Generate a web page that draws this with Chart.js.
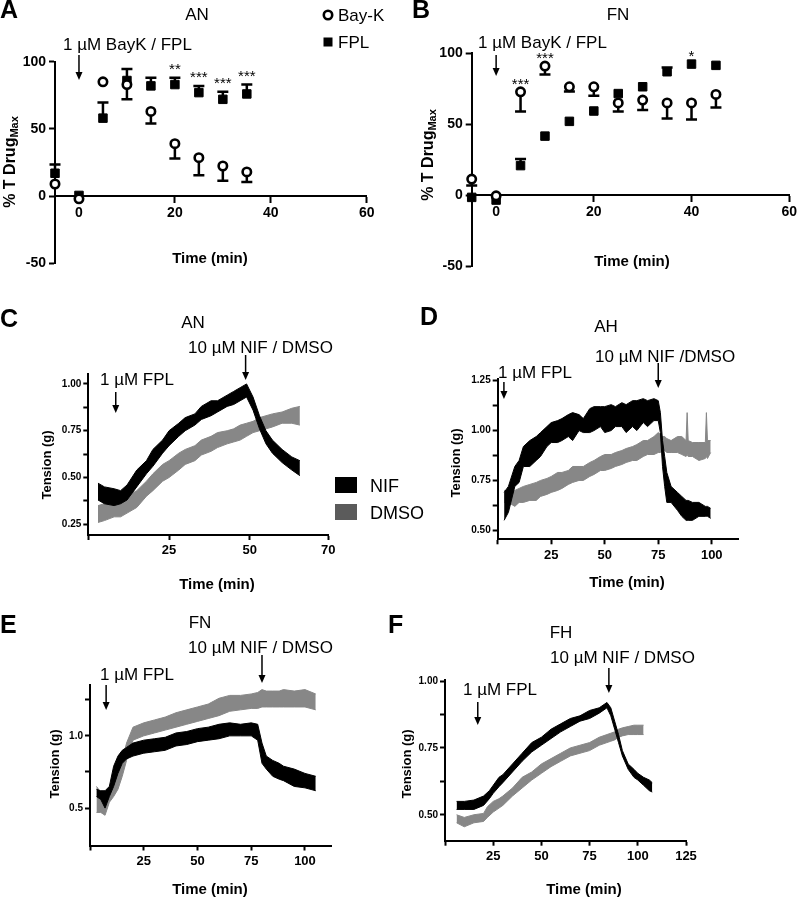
<!DOCTYPE html>
<html>
<head>
<meta charset="utf-8">
<script src="https://cdn.jsdelivr.net/npm/chart.js@4.4.1/dist/chart.umd.min.js"></script>
<style>
  body { margin: 0; background: #fff; width: 800px; height: 899px; overflow: hidden; position: relative; }
  canvas { position: absolute; }
</style>
</head>
<body>
<canvas id="chartA"></canvas>
<canvas id="chartB"></canvas>
<canvas id="chartC"></canvas>
<canvas id="chartD"></canvas>
<canvas id="chartE"></canvas>
<canvas id="chartF"></canvas>
<script>
// ---- panel A (AN) : % of max tension, mean + one-sided SEM ----
const aTime = [-5, 0, 5, 10, 15, 20, 25, 30, 35];
const aBayK = [9, -2, 85, 83, 63, 39, 28.6, 22.4, 18];
const aBayKErr = [0, 0, 0, 11, 9, 11, 13, 11, 7.6];
const aFpl = [17, 0.5, 58, 86, 82, 83, 77, 72, 76];
const aFplErr = [6.5, 0, 11.7, 8.5, 6, 5, 5, 5.6, 7];
const aStars = ["", "", "", "", "", "**", "***", "***", "***"];

// ---- panel B (FN) ----
const bTime = [-5, 0, 5, 10, 15, 20, 25, 30, 35, 40, 45];
const bBayK = [11.3, -0.5, 72.8, 91, 76.4, 76.4, 65, 67, 65, 65, 71];
const bBayKErr = [4.5, 0, 13.8, 6, 3.4, 6.4, 6, 7, 11, 11.6, 9.3];
const bFpl = [-1.6, -3.5, 20.8, 41.6, 52, 59.3, 71.6, 76.4, 87, 92.4, 91.5];
const bFplErr = [0, 0, 4.7, 0, 0, 0, 0, 0, 3, 0, 0];
const bStars = ["", "", "***", "***", "", "", "", "", "", "*", ""];

const pctTicks = [-50, 0, 50, 100];
const pctLabels = ["-50", "0", "50", "100"];
const abTimeTicks = [0, 20, 40, 60];
const abTimeLabels = ["0", "20", "40", "60"];

// ---- panel C (AN) tension traces, band = low/high envelope of the trace ----
const cTime = [3, 5, 8, 10, 12, 15, 18, 20, 23, 25, 28, 30, 33, 35, 38, 40, 43, 45, 47, 49, 51, 53, 55, 57, 60, 63, 65.5];
const cNifLow = [0.38, 0.36, 0.35, 0.36, 0.38, 0.45, 0.52, 0.56, 0.63, 0.67, 0.72, 0.75, 0.78, 0.81, 0.83, 0.85, 0.88, 0.89, 0.91, 0.93, 0.86, 0.76, 0.68, 0.63, 0.58, 0.54, 0.51];
const cNifHigh = [0.47, 0.45, 0.44, 0.43, 0.46, 0.54, 0.59, 0.65, 0.70, 0.75, 0.79, 0.82, 0.84, 0.88, 0.91, 0.91, 0.94, 0.96, 0.98, 1.00, 0.93, 0.83, 0.75, 0.70, 0.65, 0.61, 0.59];
const cDmsoLow = [0.26, 0.27, 0.29, 0.29, 0.31, 0.34, 0.40, 0.43, 0.48, 0.50, 0.54, 0.57, 0.59, 0.62, 0.64, 0.66, 0.68, 0.69, 0.70, 0.72, 0.74, 0.75, 0.76, 0.77, 0.79, 0.79, 0.78];
const cDmsoHigh = [0.35, 0.36, 0.36, 0.38, 0.40, 0.43, 0.48, 0.52, 0.57, 0.59, 0.63, 0.65, 0.67, 0.70, 0.72, 0.74, 0.75, 0.76, 0.78, 0.79, 0.80, 0.82, 0.83, 0.84, 0.85, 0.87, 0.88];
const cXTicks = [0, 25, 50, 74.3];
const cXLabels = ["", "25", "50", "70"];
const cYTicks = [0.25, 0.375, 0.5, 0.625, 0.75, 0.875, 1.0];
const cYLabels = ["0.25", "", "0.50", "", "0.75", "", "1.00"];

// ---- panel D (AH) ----
const dTime = [3, 5, 8, 10, 12, 15, 18, 20, 23, 25, 28, 30, 33, 35, 38, 40, 43, 45, 48, 50, 53, 55, 58, 60, 63, 65, 68, 70, 73, 75, 76, 77, 78, 79, 81, 84, 86, 88, 88.5, 89, 91, 94, 97, 97.5, 98, 99.5];
const dNifLow = [0.55, 0.59, 0.72, 0.74, 0.82, 0.82, 0.85, 0.87, 0.92, 0.94, 0.94, 0.95, 0.97, 0.95, 1.00, 0.99, 0.99, 1.00, 1.02, 0.99, 1.00, 1.02, 1.02, 0.99, 1.02, 1.00, 1.04, 1.02, 1.05, 1.05, 0.99, 0.82, 0.72, 0.64, 0.64, 0.60, 0.57, 0.55, 0.55, 0.55, 0.55, 0.57, 0.57, 0.57, 0.57, 0.56];
const dNifHigh = [0.69, 0.72, 0.82, 0.85, 0.92, 0.95, 0.97, 0.99, 1.02, 1.04, 1.05, 1.06, 1.08, 1.09, 1.08, 1.06, 1.11, 1.12, 1.12, 1.12, 1.13, 1.12, 1.14, 1.13, 1.15, 1.15, 1.16, 1.15, 1.16, 1.15, 1.09, 0.95, 0.87, 0.79, 0.72, 0.69, 0.67, 0.65, 0.65, 0.65, 0.64, 0.64, 0.62, 0.62, 0.62, 0.61];
const dDmsoLow = [0.64, 0.64, 0.62, 0.64, 0.64, 0.65, 0.65, 0.67, 0.68, 0.69, 0.70, 0.71, 0.73, 0.74, 0.75, 0.75, 0.77, 0.78, 0.80, 0.80, 0.81, 0.82, 0.83, 0.84, 0.85, 0.85, 0.87, 0.88, 0.88, 0.89, 0.89, 0.90, 0.90, 0.89, 0.89, 0.89, 0.88, 0.87, 0.88, 0.87, 0.87, 0.85, 0.86, 0.87, 0.86, 0.89];
const dDmsoHigh = [0.70, 0.70, 0.70, 0.71, 0.72, 0.73, 0.74, 0.75, 0.76, 0.77, 0.79, 0.79, 0.80, 0.82, 0.82, 0.82, 0.84, 0.85, 0.87, 0.88, 0.88, 0.89, 0.90, 0.91, 0.92, 0.93, 0.95, 0.95, 0.97, 0.99, 0.98, 0.97, 0.97, 0.96, 0.95, 0.97, 0.97, 0.95, 1.09, 0.95, 0.94, 0.94, 0.94, 1.09, 0.95, 0.95];
const dXTicks = [0, 25, 50, 75, 100];
const dXLabels = ["", "25", "50", "75", "100"];
const dYTicks = [0.5, 0.625, 0.75, 0.875, 1.0, 1.125, 1.25];
const dYLabels = ["0.50", "", "0.75", "", "1.00", "", "1.25"];

// ---- panel E (FN) ----
const eTime = [3, 5, 7, 9, 11, 13, 15, 17, 20, 25, 30, 35, 40, 45, 50, 55, 60, 65, 70, 75, 78, 80, 82, 85, 88, 90, 95, 100, 105];
const eNifLow = [0.58, 0.56, 0.50, 0.58, 0.65, 0.74, 0.81, 0.84, 0.86, 0.88, 0.89, 0.90, 0.93, 0.94, 0.96, 0.97, 0.98, 1.00, 1.00, 1.00, 0.97, 0.81, 0.77, 0.72, 0.70, 0.69, 0.65, 0.64, 0.62];
const eNifHigh = [0.63, 0.62, 0.62, 0.65, 0.79, 0.86, 0.90, 0.92, 0.95, 0.97, 0.98, 0.99, 1.02, 1.03, 1.05, 1.06, 1.08, 1.09, 1.08, 1.09, 1.08, 0.95, 0.86, 0.83, 0.81, 0.79, 0.77, 0.74, 0.72];
const eDmsoLow = [0.47, 0.47, 0.45, 0.54, 0.58, 0.63, 0.72, 0.83, 0.97, 1.00, 1.02, 1.04, 1.06, 1.08, 1.10, 1.12, 1.14, 1.17, 1.18, 1.19, 1.19, 1.20, 1.20, 1.20, 1.20, 1.20, 1.20, 1.20, 1.18];
const eDmsoHigh = [0.65, 0.61, 0.58, 0.65, 0.70, 0.74, 0.83, 0.95, 1.06, 1.09, 1.11, 1.13, 1.16, 1.18, 1.20, 1.22, 1.26, 1.28, 1.28, 1.29, 1.30, 1.32, 1.31, 1.31, 1.31, 1.32, 1.31, 1.32, 1.29];
const eYTicks = [0.5, 0.75, 1.0, 1.25];
const eYLabels = ["0.5", "", "1.0", ""];

// ---- panel F (FH) ----
const fTime = [6, 10, 15, 20, 23, 25, 28, 30, 35, 40, 45, 50, 55, 60, 65, 70, 75, 80, 84, 86, 88, 90, 92, 95, 98, 100, 103, 106, 107.5];
const fNifLow = [0.52, 0.52, 0.52, 0.535, 0.56, 0.58, 0.605, 0.62, 0.66, 0.70, 0.735, 0.76, 0.785, 0.81, 0.83, 0.85, 0.86, 0.88, 0.90, 0.87, 0.82, 0.77, 0.72, 0.67, 0.64, 0.63, 0.61, 0.59, 0.585];
const fNifHigh = [0.55, 0.55, 0.555, 0.57, 0.59, 0.61, 0.64, 0.65, 0.69, 0.73, 0.77, 0.79, 0.82, 0.84, 0.86, 0.87, 0.89, 0.90, 0.92, 0.90, 0.85, 0.80, 0.74, 0.69, 0.67, 0.655, 0.64, 0.63, 0.62];
const fDmsoTime = [6, 10, 15, 20, 22, 25, 28, 30, 35, 40, 45, 50, 55, 60, 65, 70, 75, 80, 84, 86, 88, 90, 92, 95, 98, 100, 103];
const fDmsoLow = [0.47, 0.455, 0.47, 0.475, 0.49, 0.51, 0.525, 0.535, 0.57, 0.60, 0.63, 0.655, 0.68, 0.70, 0.72, 0.73, 0.74, 0.76, 0.77, 0.775, 0.78, 0.79, 0.795, 0.80, 0.80, 0.80, 0.80];
const fDmsoHigh = [0.50, 0.49, 0.50, 0.505, 0.53, 0.55, 0.56, 0.57, 0.60, 0.64, 0.66, 0.69, 0.71, 0.73, 0.75, 0.76, 0.77, 0.79, 0.80, 0.805, 0.81, 0.82, 0.825, 0.83, 0.835, 0.835, 0.835];
const fXTicks = [0, 25, 50, 75, 100, 125];
const fXLabels = ["", "25", "50", "75", "100", "125"];
const fYTicks = [0.5, 0.625, 0.75, 0.875, 1.0];
const fYLabels = ["0.50", "", "0.75", "", "1.00"];

const FONT = "'Liberation Sans', Arial, Helvetica, sans-serif";
const GRAY = "#878787";
const LEGEND_GRAY = "#5b5b5b";

Chart.defaults.font.family = FONT;
Chart.defaults.color = "#000";

function place(id, box) {
  const cv = document.getElementById(id);
  cv.width = box.w;
  cv.height = box.h;
  cv.style.left = box.x + "px";
  cv.style.top = box.y + "px";
  return cv;
}

function tickAxis(vals, labels, size, len, pad, extra) {
  return Object.assign(
    {
      type: "linear",
      afterBuildTicks: (s) => {
        s.ticks = vals.map((v) => ({ value: v }));
      },
      grid: { drawOnChartArea: false, tickLength: len, tickColor: "#000", tickWidth: 2 },
      border: { color: "#000", width: 2 },
      ticks: {
        color: "#000",
        autoSkip: false,
        maxRotation: 0,
        padding: pad,
        font: { family: FONT, size: size, weight: "bold" },
        callback: (v, i) => labels[i],
      },
    },
    extra
  );
}

function band(time, low, high, color) {
  return [
    { data: time.map((t, i) => ({ x: t, y: low[i] })), borderColor: color, borderWidth: 1, pointRadius: 0, fill: false },
    { data: time.map((t, i) => ({ x: t, y: high[i] })), borderColor: color, borderWidth: 1, pointRadius: 0, fill: "-1", backgroundColor: color },
  ];
}

function arrow(ctx, x, y0, y1) {
  ctx.lineWidth = 1.5;
  ctx.beginPath();
  ctx.moveTo(x, y0);
  ctx.lineTo(x, y1 - 6);
  ctx.stroke();
  ctx.beginPath();
  ctx.moveTo(x - 3.5, y1 - 8);
  ctx.lineTo(x + 3.5, y1 - 8);
  ctx.lineTo(x, y1);
  ctx.closePath();
  ctx.fill();
}

// letters, titles, notes, arrows and axis titles; coordinates are page pixels
function decor(box, spec) {
  return {
    id: "decor",
    afterDraw(chart) {
      const ctx = chart.ctx;
      const xs = chart.scales.x;
      ctx.save();
      ctx.translate(-box.x, -box.y);
      ctx.fillStyle = "#000";
      ctx.strokeStyle = "#000";
      ctx.textBaseline = "alphabetic";

      ctx.font = "bold 25px " + FONT;
      ctx.textAlign = "left";
      ctx.fillText(spec.letter[0], spec.letter[1], spec.letter[2]);

      ctx.font = "17px " + FONT;
      ctx.textAlign = "center";
      ctx.fillText(spec.title[0], spec.title[1], spec.title[2]);

      ctx.textAlign = "left";
      spec.notes.forEach((n) => ctx.fillText(n[0], n[1], n[2]));

      spec.arrows.forEach((a) => arrow(ctx, xs.getPixelForValue(a[0]) + box.x, a[1], a[2]));

      ctx.font = "bold 15px " + FONT;
      ctx.textAlign = "center";
      ctx.fillText("Time (min)", spec.xTitle[0], spec.xTitle[1]);

      const yt = spec.yTitle;
      ctx.save();
      ctx.translate(yt.x, yt.y);
      ctx.rotate(-Math.PI / 2);
      ctx.textAlign = "left";
      ctx.font = "bold " + yt.size + "px " + FONT;
      const w1 = ctx.measureText(yt.text).width;
      let w2 = 0;
      if (yt.sub) {
        ctx.font = "bold " + yt.subSize + "px " + FONT;
        w2 = ctx.measureText(yt.sub).width;
      }
      const start = -(w1 + w2) / 2;
      ctx.font = "bold " + yt.size + "px " + FONT;
      ctx.fillText(yt.text, start, 0);
      if (yt.sub) {
        ctx.font = "bold " + yt.subSize + "px " + FONT;
        ctx.fillText(yt.sub, start + w1, 3);
      }
      ctx.restore();

      if (spec.legend) spec.legend(ctx);
      ctx.restore();
    },
  };
}

// one-sided error bars (down for Bay-K, up for FPL) and significance stars
function errorBars(series, stars, starGap) {
  return {
    id: "errorBars",
    beforeDatasetsDraw(chart) {
      const { ctx } = chart;
      const { x, y } = chart.scales;
      ctx.save();
      ctx.strokeStyle = "#000";
      ctx.lineWidth = 2.5;
      series.forEach((s) =>
        s.time.forEach((t, i) => {
          const e = s.err[i];
          if (!e) return;
          const px = x.getPixelForValue(t);
          const py0 = y.getPixelForValue(s.val[i]);
          const py1 = y.getPixelForValue(s.val[i] + s.dir * e);
          ctx.beginPath();
          ctx.moveTo(px, py0);
          ctx.lineTo(px, py1);
          ctx.moveTo(px - 5.5, py1);
          ctx.lineTo(px + 5.5, py1);
          ctx.stroke();
        })
      );
      ctx.restore();
    },
    afterDatasetsDraw(chart) {
      const { ctx } = chart;
      const { x, y } = chart.scales;
      ctx.save();
      ctx.fillStyle = "#000";
      ctx.font = "15px " + FONT;
      ctx.textAlign = "center";
      ctx.textBaseline = "middle";
      stars.forEach((st, i) => {
        if (!st) return;
        let top = Infinity;
        series.forEach((s) => {
          top = Math.min(top, y.getPixelForValue(s.val[i]) - 5.5);
          if (s.dir > 0 && s.err[i]) top = Math.min(top, y.getPixelForValue(s.val[i] + s.err[i]));
        });
        ctx.fillText(st, x.getPixelForValue(series[0].time[i]), top - starGap);
      });
      ctx.restore();
    },
  };
}

function markerLegend(ctx, x, y1, y2) {
  ctx.lineWidth = 2.6;
  ctx.fillStyle = "#fff";
  ctx.beginPath();
  ctx.arc(x, y1, 4.2, 0, Math.PI * 2);
  ctx.fill();
  ctx.stroke();
  ctx.fillStyle = "#000";
  ctx.fillRect(x - 4.5, y2 - 4.5, 9, 9);
  ctx.font = "17px " + FONT;
  ctx.textAlign = "left";
  ctx.fillText("Bay-K", x + 10, y1 + 6);
  ctx.fillText("FPL", x + 10, y2 + 6);
}

function boxLegend(ctx) {
  ctx.fillStyle = "#000";
  ctx.fillRect(335, 477, 22, 16);
  ctx.fillStyle = LEGEND_GRAY;
  ctx.fillRect(335, 504, 22, 16);
  ctx.fillStyle = "#000";
  ctx.font = "18px " + FONT;
  ctx.textAlign = "left";
  ctx.fillText("NIF", 370, 492);
  ctx.fillText("DMSO", 370, 519);
}

function pctChart(id, box, area, d, spec) {
  const cv = place(id, box);
  const YW = 45;
  const a = { l: area.l - box.x, r: area.r - box.x, t: area.t - box.y, b: area.b - box.y };
  new Chart(cv, {
    type: "line",
    data: {
      datasets: [
        {
          label: "Bay-K",
          data: d.time.map((t, i) => ({ x: t, y: d.bayk[i] })),
          showLine: false,
          pointStyle: "circle",
          pointRadius: 4.2,
          pointBorderWidth: 2.6,
          pointBorderColor: "#000",
          pointBackgroundColor: "#fff",
          clip: false,
        },
        {
          label: "FPL",
          data: d.time.map((t, i) => ({ x: t, y: d.fpl[i] })),
          showLine: false,
          pointStyle: "rect",
          pointRadius: 6,
          pointBorderWidth: 1,
          pointBorderColor: "#000",
          pointBackgroundColor: "#000",
          clip: false,
        },
      ],
    },
    options: {
      responsive: false,
      animation: false,
      events: [],
      layout: { padding: { left: a.l - YW, right: box.w - a.r, top: a.t, bottom: box.h - a.b } },
      plugins: { legend: { display: false }, tooltip: { enabled: false } },
      scales: {
        x: tickAxis(abTimeTicks, abTimeLabels, 14, 6, 3, { min: -5, max: 60, position: { y: 0 } }),
        y: tickAxis(pctTicks, pctLabels, 14, 6, 3, {
          min: -50,
          max: 100,
          position: "left",
          afterFit: (s) => {
            s.width = YW;
          },
        }),
      },
    },
    plugins: [
      errorBars(
        [
          { time: d.time, val: d.bayk, err: d.baykErr, dir: -1 },
          { time: d.time, val: d.fpl, err: d.fplErr, dir: 1 },
        ],
        d.stars,
        spec.starGap
      ),
      decor(box, spec),
    ],
  });
}

function traceChart(id, box, area, d, spec) {
  const cv = place(id, box);
  const YW = 40;
  const XH = 25;
  const a = { l: area.l - box.x, r: area.r - box.x, t: area.t - box.y, b: area.b - box.y };
  new Chart(cv, {
    type: "line",
    data: {
      datasets: [
        ...band(d.nifTime, d.nifLow, d.nifHigh, "#000"),
        ...band(d.dmsoTime, d.dmsoLow, d.dmsoHigh, GRAY),
      ],
    },
    options: {
      responsive: false,
      animation: false,
      events: [],
      layout: { padding: { left: a.l - YW, right: box.w - a.r, top: a.t, bottom: box.h - a.b - XH } },
      plugins: { legend: { display: false }, tooltip: { enabled: false } },
      scales: {
        x: tickAxis(d.xTicks, d.xLabels, 13, 5, 3, {
          min: d.xMin,
          max: d.xMax,
          position: "bottom",
          afterFit: (s) => {
            s.height = XH;
          },
        }),
        y: tickAxis(d.yTicks, d.yLabels, 10, 5, 2, {
          min: d.yMin,
          max: d.yMax,
          position: "left",
          afterFit: (s) => {
            s.width = YW;
          },
        }),
      },
    },
    plugins: [decor(box, spec)],
  });
}

pctChart(
  "chartA",
  { x: 0, y: 0, w: 400, h: 300 },
  { l: 55, r: 366.7, t: 61.7, b: 263.3 },
  { time: aTime, bayk: aBayK, baykErr: aBayKErr, fpl: aFpl, fplErr: aFplErr, stars: aStars },
  {
    letter: ["A", 0, 18],
    title: ["AN", 197, 20],
    notes: [["1 µM BayK / FPL", 63, 50]],
    arrows: [[0, 55, 80]],
    xTitle: [210, 263],
    yTitle: { text: "% T Drug", sub: "Max", size: 16, subSize: 11, x: 15, y: 162 },
    starGap: 8,
    legend: (ctx) => markerLegend(ctx, 328, 15, 42),
  }
);

pctChart(
  "chartB",
  { x: 400, y: 0, w: 400, h: 300 },
  { l: 471.7, r: 793, t: 53.3, b: 266 },
  { time: bTime, bayk: bBayK, baykErr: bBayKErr, fpl: bFpl, fplErr: bFplErr, stars: bStars },
  {
    letter: ["B", 412, 18],
    title: ["FN", 618, 20],
    notes: [["1 µM BayK / FPL", 478, 48]],
    arrows: [[0, 55, 76]],
    xTitle: [632, 266],
    yTitle: { text: "% T Drug", sub: "Max", size: 16, subSize: 11, x: 433, y: 155 },
    starGap: 2,
  }
);

traceChart(
  "chartC",
  { x: 0, y: 300, w: 440, h: 300 },
  { l: 88.3, r: 328.3, t: 374, b: 535 },
  {
    nifTime: cTime, nifLow: cNifLow, nifHigh: cNifHigh,
    dmsoTime: cTime, dmsoLow: cDmsoLow, dmsoHigh: cDmsoHigh,
    xTicks: cXTicks, xLabels: cXLabels, xMin: 0, xMax: 74.3,
    yTicks: cYTicks, yLabels: cYLabels, yMin: 0.193, yMax: 1.053,
  },
  {
    letter: ["C", 0, 327],
    title: ["AN", 193, 328],
    notes: [["10 µM NIF / DMSO", 188, 353], ["1 µM FPL", 100, 385]],
    arrows: [[8.5, 392, 413], [48.7, 355, 380]],
    xTitle: [217, 589],
    yTitle: { text: "Tension (g)", size: 13, x: 51, y: 465 },
    legend: boxLegend,
  }
);

traceChart(
  "chartD",
  { x: 400, y: 300, w: 400, h: 300 },
  { l: 497.7, r: 738.3, t: 379.3, b: 539.3 },
  {
    nifTime: dTime, nifLow: dNifLow, nifHigh: dNifHigh,
    dmsoTime: dTime, dmsoLow: dDmsoLow, dmsoHigh: dDmsoHigh,
    xTicks: dXTicks, xLabels: dXLabels, xMin: 0, xMax: 112.4,
    yTicks: dYTicks, yLabels: dYLabels, yMin: 0.455, yMax: 1.257,
  },
  {
    letter: ["D", 420, 325],
    title: ["AH", 606, 332],
    notes: [["10 µM NIF /DMSO", 595, 362], ["1 µM FPL", 498, 378]],
    arrows: [[2.9, 382, 399], [75, 363, 388]],
    xTitle: [627, 587],
    yTitle: { text: "Tension (g)", size: 13, x: 460, y: 463 },
  }
);

traceChart(
  "chartE",
  { x: 0, y: 600, w: 385, h: 299 },
  { l: 90, r: 331, t: 685, b: 845.5 },
  {
    nifTime: eTime, nifLow: eNifLow, nifHigh: eNifHigh,
    dmsoTime: eTime, dmsoLow: eDmsoLow, dmsoHigh: eDmsoHigh,
    xTicks: dXTicks, xLabels: dXLabels, xMin: 0, xMax: 112.1,
    yTicks: eYTicks, yLabels: eYLabels, yMin: 0.241, yMax: 1.352,
  },
  {
    letter: ["E", 0, 633],
    title: ["FN", 200, 628],
    notes: [["10 µM NIF / DMSO", 188, 653], ["1 µM FPL", 100, 680]],
    arrows: [[7.5, 685, 710], [80, 655, 683]],
    xTitle: [210, 894],
    yTitle: { text: "Tension (g)", size: 13, x: 59, y: 764 },
  }
);

traceChart(
  "chartF",
  { x: 385, y: 600, w: 415, h: 299 },
  { l: 445, r: 686, t: 680, b: 840.7 },
  {
    nifTime: fTime, nifLow: fNifLow, nifHigh: fNifHigh,
    dmsoTime: fDmsoTime, dmsoLow: fDmsoLow, dmsoHigh: fDmsoHigh,
    xTicks: fXTicks, xLabels: fXLabels, xMin: 0, xMax: 125,
    yTicks: fYTicks, yLabels: fYLabels, yMin: 0.403, yMax: 1.004,
  },
  {
    letter: ["F", 388, 633],
    title: ["FH", 561, 638],
    notes: [["10 µM NIF / DMSO", 550, 663], ["1 µM FPL", 463, 695]],
    arrows: [[17, 702, 725], [85, 668, 693]],
    xTitle: [584, 894],
    yTitle: { text: "Tension (g)", size: 13, x: 411, y: 764 },
  }
);
</script>
</body>
</html>
